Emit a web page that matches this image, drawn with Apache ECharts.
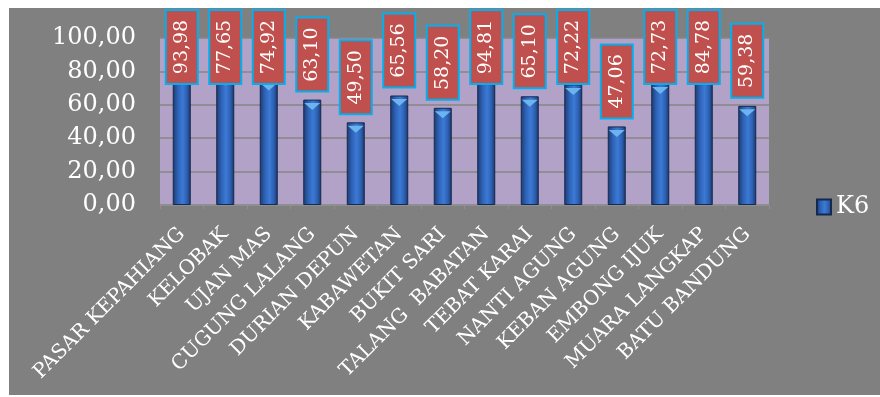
<!DOCTYPE html>
<html><head><meta charset="utf-8">
<script src="https://cdn.jsdelivr.net/npm/echarts@6/dist/echarts.min.js"></script>
<style>html,body{margin:0;padding:0;background:#fff}#c{width:880px;height:397px}</style>
</head><body><div id="c"></div>
<script>
var categories = ['PASAR KEPAHIANG','KELOBAK','UJAN MAS','CUGUNG LALANG','DURIAN DEPUN','KABAWETAN','BUKIT SARI','TALANG  BABATAN','TEBAT KARAI','NANTI AGUNG','KEBAN AGUNG','EMBONG IJUK','MUARA LANGKAP','BATU BANDUNG'];
var k6 = [93.98, 77.65, 74.92, 63.10, 49.50, 65.56, 58.20, 94.81, 65.10, 72.22, 47.06, 72.73, 84.78, 59.38];
var yTicks = [0, 20, 40, 60, 80, 100];
var seriesName = 'K6';

var FONT = '"DejaVu Serif", serif';
var LBL_SIZE = 19, LBL_PAD_H = 9, LBL_BOX_W = 34, LBL_BORDER = 2, LBL_GAP = 7, TOP_LIMIT = 9;
function fmt(v){ return Number(v).toFixed(2).replace('.', ','); }
var mctx = document.createElement('canvas').getContext('2d');
mctx.font = LBL_SIZE + 'px "DejaVu Serif"';
function textW(s){ return mctx.measureText(s).width; }

var chart = echarts.init(document.getElementById('c'), null, {renderer:'canvas'});
var barGrad = new echarts.graphic.LinearGradient(0,0,1,0,[
  {offset:0,color:'#1c3a70'},{offset:0.3,color:'#2f64b8'},{offset:0.55,color:'#3c7ad6'},{offset:0.8,color:'#2c5eae'},{offset:1,color:'#1a3466'}]);
var labelData = k6.map(function(v,i){ return [i, v]; });
chart.setOption({
  animation:false,
  backgroundColor:'#ffffff',
  graphic:[{type:'rect',z:-10,silent:true,shape:{x:9,y:8,width:871,height:387},style:{fill:'#808080'}}],
  grid:{left:160,right:111,top:38,bottom:192,show:true,backgroundColor:'#b3a2c7',borderWidth:0},
  legend:{data:[seriesName],left:811,top:190,icon:'rect',itemWidth:14,itemHeight:15,itemGap:5,
    textStyle:{color:'#ffffff',fontFamily:FONT,fontSize:24}},
  xAxis:{type:'category',data:categories,
    axisLine:{show:true,lineStyle:{color:'#8f8f8f',width:1}},
    axisTick:{show:true,length:4,lineStyle:{color:'#8f8f8f'}},
    axisLabel:{interval:0,rotate:45,margin:26,color:'#ffffff',fontFamily:FONT,fontSize:20}},
  yAxis:{type:'value',min:yTicks[0],max:yTicks[yTicks.length-1],interval:yTicks[1]-yTicks[0],
    axisLine:{show:false},axisTick:{show:false},
    splitLine:{lineStyle:{color:'#868686',width:1.5}},
    axisLabel:{margin:24,color:'#ffffff',fontFamily:FONT,fontSize:24,formatter:fmt}},
  series:[{
    name:seriesName,type:'bar',data:k6,barWidth:18,
    itemStyle:{color:barGrad,borderColor:'#14294f',borderWidth:1}
  },{
    name:'cap',type:'pictorialBar',data:k6,symbol:'triangle',symbolRotate:180,
    symbolSize:[16,7],symbolPosition:'end',symbolOffset:[0,'50%'],z:3,
    itemStyle:{color:'#6cb4ee'},silent:true
  },{
    name:'labels',type:'custom',data:labelData,clip:false,z:5,silent:true,
    encode:{x:0,y:1},
    renderItem:function(params, api){
      var v = api.value(1);
      var pt = api.coord([api.value(0), v]);
      var txt = fmt(v);
      var H = Math.round(textW(txt) + 2*LBL_PAD_H + 2*LBL_BORDER);
      var yb = Math.max(pt[1] - LBL_GAP, TOP_LIMIT + H);
      var cx = pt[0], cy = yb - H/2;
      return {type:'group', children:[
        {type:'rect', shape:{x:cx - LBL_BOX_W/2 + 1, y:yb - H + 1, width:LBL_BOX_W - 2, height:H - 2},
          style:{fill:'#c0504d', stroke:'#00b0f0', lineWidth:LBL_BORDER}},
        {type:'text', x:cx, y:cy, rotation:Math.PI/2, originX:0, originY:0,
          style:{text:txt, fill:'#ffffff', fontSize:LBL_SIZE, fontFamily:'DejaVu Serif',
            align:'center', verticalAlign:'middle'}}
      ]};
    }
  }]
});
</script></body></html>
